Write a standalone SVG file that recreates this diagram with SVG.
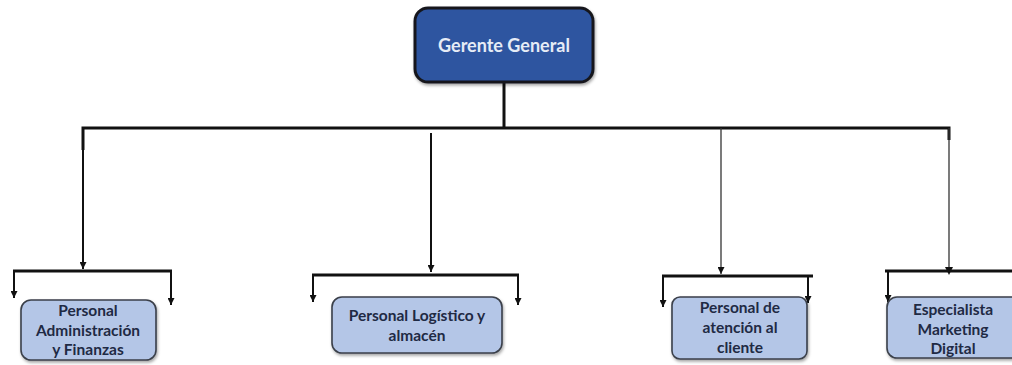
<svg xmlns="http://www.w3.org/2000/svg" width="1012" height="365" viewBox="0 0 1012 365">
<defs>
<marker id="ah" viewBox="0 0 10 10" refX="10" refY="5" markerWidth="7" markerHeight="7" markerUnits="userSpaceOnUse" orient="auto">
<path d="M0,0 L10,5 L0,10 Z" fill="#111"/>
</marker>
<marker id="ahd" viewBox="0 0 10 10" refX="5" refY="5" markerWidth="8" markerHeight="8" markerUnits="userSpaceOnUse" orient="auto">
<path d="M0,0 L10,5 L0,10 Z" fill="#111"/>
</marker>
<filter id="sh" x="-10%" y="-10%" width="130%" height="140%">
<feDropShadow dx="1" dy="2" stdDeviation="1.5" flood-color="#000" flood-opacity="0.35"/>
</filter>
</defs>
<style>
.thick{stroke:#111;stroke-width:3;fill:none}
.med{stroke:#111;stroke-width:2;fill:none}
.thin{stroke:#333;stroke-width:1.3;fill:none}
.box{fill:#b4c6e7;stroke:#3a3f4a;stroke-width:1.6;filter:url(#sh)}
.lbl{font-family:Lato,"Liberation Sans",sans-serif;font-weight:bold;font-size:15.5px;fill:#1f2a44;text-anchor:middle}
</style>
<g id="connectors">
<line class="thick" x1="504" y1="82" x2="504" y2="129"/>
<polyline class="thick" points="83,150 83,128 949,128 949,140"/>
<line class="med" x1="83" y1="128" x2="83" y2="269" marker-end="url(#ah)"/>
<line class="med" x1="431" y1="133" x2="431" y2="272" marker-end="url(#ah)"/>
<line class="thin" x1="721" y1="128" x2="721" y2="274" marker-end="url(#ah)"/>
<line class="thin" x1="949" y1="128" x2="949" y2="271" marker-end="url(#ahd)"/>
<line class="thick" x1="13" y1="271" x2="172" y2="271"/>
<line class="med" x1="14" y1="271" x2="14" y2="298" marker-end="url(#ah)"/>
<line class="med" x1="171" y1="271" x2="171" y2="305" marker-end="url(#ah)"/>
<line class="thick" x1="312" y1="275" x2="519" y2="275"/>
<line class="med" x1="313" y1="275" x2="313" y2="302" marker-end="url(#ah)"/>
<line class="med" x1="518" y1="275" x2="518" y2="305" marker-end="url(#ah)"/>
<line class="thick" x1="662" y1="276" x2="813" y2="276"/>
<line class="med" x1="663" y1="276" x2="663" y2="307" marker-end="url(#ah)"/>
<line class="med" x1="808" y1="276" x2="808" y2="303" marker-end="url(#ah)"/>
<line class="thick" x1="885" y1="271" x2="1012" y2="271"/>
<line class="med" x1="888" y1="271" x2="888" y2="302" marker-end="url(#ah)"/>
</g>
<g id="gerente">
<rect x="415" y="8" width="178" height="74" rx="13" fill="#2e55a0" stroke="#16181f" stroke-width="3" filter="url(#sh)"/>
<text x="504" y="52" font-family="Lato,'Liberation Sans',sans-serif" font-weight="bold" font-size="18" fill="#e6ecf6" text-anchor="middle">Gerente General</text>
</g>
<g id="admin">
<rect class="box" x="21" y="300" width="135" height="60" rx="10"/>
<text class="lbl" x="88" y="316">Personal</text>
<text class="lbl" x="88" y="336">Administración</text>
<text class="lbl" x="88" y="355">y Finanzas</text>
</g>
<g id="logistico">
<rect class="box" x="332" y="297" width="170" height="56" rx="10"/>
<text class="lbl" x="417" y="321">Personal Logístico y</text>
<text class="lbl" x="417" y="341">almacén</text>
</g>
<g id="atencion">
<rect class="box" x="672" y="297" width="135" height="62" rx="8"/>
<text class="lbl" x="740" y="313">Personal de</text>
<text class="lbl" x="740" y="333">atención al</text>
<text class="lbl" x="740" y="353">cliente</text>
</g>
<g id="marketing">
<rect class="box" x="887" y="297" width="140" height="61" rx="10"/>
<text class="lbl" x="953" y="315">Especialista</text>
<text class="lbl" x="953" y="335">Marketing</text>
<text class="lbl" x="953" y="354">Digital</text>
</g>
</svg>
